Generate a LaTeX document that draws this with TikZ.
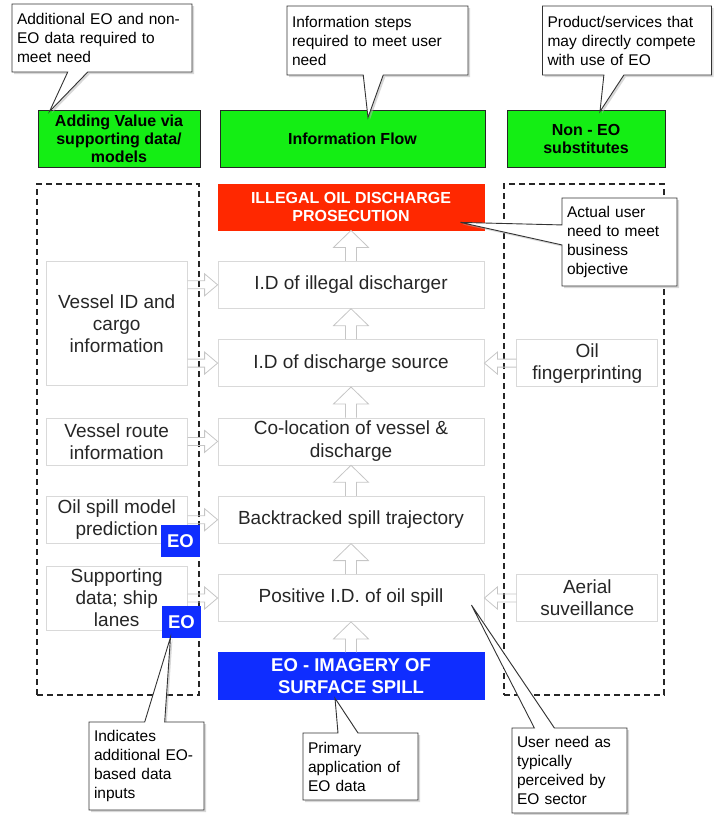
\documentclass[tikz,border=0pt]{standalone}
\usepackage{fontspec}
\setmainfont{Liberation Sans}
\usetikzlibrary{positioning, calc, shapes.callouts, shadows}

\definecolor{hdrgreen}{RGB}{20,238,20}
\definecolor{goalred}{RGB}{255,40,0}
\definecolor{eoblue}{RGB}{15,45,255}

\tikzset{
  comp/.style={rectangle, draw=gray!30, line width=0.8pt,
               minimum width=266pt, minimum height=47pt, inner sep=2pt,
               align=center, text=black!85, font=\fontsize{19}{23}\selectfont},
  goalbox/.style={comp, fill=goalred, draw=goalred, text=white, minimum height=46pt,
                  font=\bfseries\fontsize{16}{18}\selectfont},
  eoimg/.style={comp, fill=eoblue, draw=eoblue, text=white,
                font=\bfseries\fontsize{18.5}{22}\selectfont},
  side/.style={rectangle, draw=gray!30, line width=0.8pt,
               minimum width=141pt, inner xsep=2pt, inner ysep=0pt,
               align=center, text=black!85, font=\fontsize{19}{22}\selectfont},
  eotag/.style={rectangle, fill=eoblue, text=white, minimum width=39pt,
                minimum height=32pt, inner sep=0pt,
                font=\bfseries\fontsize{18.5}{20}\selectfont},
  hdr/.style={rectangle, draw=black!85, line width=1pt, fill=hdrgreen,
              minimum height=57pt, inner sep=2pt, align=center,
              font=\bfseries\fontsize{16}{18}\selectfont},
  grp/.style={rectangle, draw=black!85, line width=1.2pt,
              dash pattern=on 6pt off 4pt},
  note/.style={rectangle callout, draw=black!80, line width=0.9pt, fill=white,
               align=left, inner xsep=5pt, inner ysep=2pt,
               callout pointer width=20pt,
               drop shadow={shadow xshift=2pt, shadow yshift=-2pt, fill=black!30},
               font=\fontsize{15.5}{19}\selectfont},
  hollow/.style={draw=gray!45, line width=0.8pt, line join=miter},
}

% hollow block arrows between named boxes
\newcommand{\flowup}[2]{%
  \draw[hollow] let \p1=(#1.north), \p2=(#2.south) in
    (\x1-5.5pt,\y1) -- (\x1-5.5pt,\y2-17pt) -- (\x1-17.5pt,\y2-17pt) -- (\x1,\y2)
    -- (\x1+17.5pt,\y2-17pt) -- (\x1+5.5pt,\y2-17pt) -- (\x1+5.5pt,\y1);}
\newcommand{\flowright}[2]{%
  \draw[hollow] let \p1=(#1.east), \p2=(#2.west) in
    (\x1,\y2+4pt) -- (\x2-13pt,\y2+4pt) -- (\x2-13pt,\y2+11pt) -- (\x2,\y2)
    -- (\x2-13pt,\y2-11pt) -- (\x2-13pt,\y2-4pt) -- (\x1,\y2-4pt);}
\newcommand{\flowleft}[2]{%
  \draw[hollow] let \p1=(#1.west), \p2=(#2.east) in
    (\x1,\y2+4pt) -- (\x2+13pt,\y2+4pt) -- (\x2+13pt,\y2+11pt) -- (\x2,\y2)
    -- (\x2+13pt,\y2-11pt) -- (\x2+13pt,\y2-4pt) -- (\x1,\y2-4pt);}

\begin{document}
\begin{tikzpicture}[x=1pt, y=-1pt]

  \useasboundingbox (0,0) rectangle (715,815);

  % column headers
  \node[hdr, minimum width=162pt] (addval) at (119,138.5)
    {Adding Value via\\supporting data/\\models};
  \node[hdr, minimum width=265pt] (flowhdr) at (352.5,138.5) {Information Flow};
  \node[hdr, minimum width=158pt] (subst) at (586,138.5) {Non - EO\\substitutes};

  % dashed groups
  \node[grp, minimum width=162pt, minimum height=511pt] (addgrp) at (118,439.5) {};
  \node[grp, minimum width=160pt, minimum height=511pt] (subgrp) at (584,439.5) {};

  % information flow
  \node[goalbox] (goal) at (351,207) {ILLEGAL OIL DISCHARGE\\PROSECUTION};
  \node[comp, below=30.5pt of goal] (culprit) {I.D of illegal discharger};
  \node[comp, below=30.5pt of culprit] (source) {I.D of discharge source};
  \node[comp, below=30.5pt of source] (coloc) {Co-location of vessel \&\\discharge};
  \node[comp, below=30.5pt of coloc] (track) {Backtracked spill trajectory};
  \node[comp, below=30.5pt of track] (spill) {Positive I.D. of oil spill};
  \node[eoimg, below=30.5pt of spill] (imagery) {EO - IMAGERY OF\\SURFACE SPILL};

  % supporting data
  \node[side, minimum height=124.5pt, anchor=north east] (cargo)
    at ($(culprit.north west)+(-30,0)$) {Vessel ID and\\cargo\\information};
  \node[side, minimum height=47pt, left=30pt of coloc] (route) {Vessel route\\information};
  \node[side, minimum height=47pt, left=30pt of track] (model) {Oil spill model\\prediction};
  \node[side, minimum height=64pt, left=30pt of spill] (lanes) {Supporting\\data; ship\\lanes};

  % substitutes
  \node[side, minimum height=47pt, right=32pt of source] (finger) {Oil\\fingerprinting};
  \node[side, minimum height=47pt, right=32pt of spill] (aerial) {Aerial\\suveillance};

  \foreach \lo/\hi in {culprit/goal, source/culprit, coloc/source,
                       track/coloc, spill/track, imagery/spill}
    \flowup{\lo}{\hi};
  \foreach \src/\dst in {cargo/culprit, cargo/source, route/coloc,
                         model/track, lanes/spill}
    \flowright{\src}{\dst};
  \foreach \src/\dst in {finger/source, aerial/spill}
    \flowleft{\src}{\dst};

  \node[eotag] (tagmodel) at (180.5,541) {EO};
  \node[eotag] (taglanes) at (181.5,622) {EO};

  % callouts
  \node[note, text width=170pt, minimum height=68pt,
        callout absolute pointer={($(addval.north west)+(12,2)$)}] (noteadd)
    at (102,38) {Additional EO and non-\\EO data required to\\meet need};
  \node[note, text width=171pt, minimum height=69pt,
        callout absolute pointer={($(flowhdr.north)+(15.5,8)$)}] (noteflow)
    at (377.5,40.5) {Information steps\\required to meet user\\need};
  \node[note, text width=159pt, minimum height=69pt,
        callout absolute pointer={($(subst.north)+(14,2)$)}] (notesubst)
    at (627,40.5) {Product/services that\\may directly compete\\with use of EO};
  \node[note, text width=105pt, minimum height=88pt,
        callout absolute pointer={($(goal.south east)+(-24,-8)$)}] (notegoal)
    at (619.5,242) {Actual user\\need to meet\\business\\objective};
  \node[note, text width=105pt, minimum height=85pt,
        callout absolute pointer={($(spill.east)+(-13,7)$)}] (notespill)
    at (569.5,770.5) {User need as\\typically\\perceived by\\EO sector};
  \node[note, text width=105pt, minimum height=67pt,
        callout absolute pointer={($(imagery.south)+(-16,-2)$)}] (noteimg)
    at (360.5,766.5) {Primary\\application of\\EO data};
  \node[note, text width=105pt, minimum height=88pt,
        callout absolute pointer={($(taglanes.south)+(-11,-1)$)}] (notetag)
    at (146.5,766) {Indicates\\additional EO-\\based data\\inputs};

\end{tikzpicture}
\end{document}
